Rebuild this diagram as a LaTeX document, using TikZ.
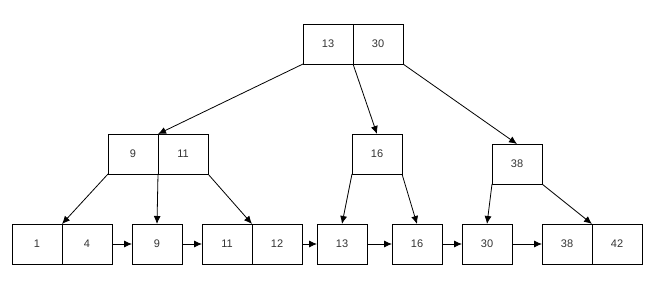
\documentclass[tikz,border=0pt]{standalone}
\usepackage{fontspec}
\setmainfont{Liberation Sans}
\usetikzlibrary{arrows.meta}
\begin{document}
\begin{tikzpicture}[x=1pt,y=-1pt,
  cell/.style={draw, line width=0.9pt, minimum width=50pt, minimum height=40pt, inner sep=0pt, outer sep=0pt, font=\fontsize{11}{13}\selectfont, text=black!80},
  link/.style={line width=0.8pt, -{Latex[length=8pt,width=7pt]}}]
\useasboundingbox (0,0) rectangle (652,281);
% root
\node[cell] (r1) at (328,44) {13};
\node[cell] (r2) at (378,44) {30};
% level 2
\node[cell] (a1) at (133,154) {9};
\node[cell] (a2) at (183,154) {11};
\node[cell] (b)  at (377,154) {16};
\node[cell] (c)  at (517,164) {38};
% leaves
\node[cell] (l1) at (37,244) {1};
\node[cell] (l2) at (87,244) {4};
\node[cell] (l3) at (157,244) {9};
\node[cell] (l4) at (227,244) {11};
\node[cell] (l5) at (277,244) {12};
\node[cell] (l6) at (342,244) {13};
\node[cell] (l7) at (417,244) {16};
\node[cell] (l8) at (487,244) {30};
\node[cell] (l9) at (567,244) {38};
\node[cell] (l10) at (617,244) {42};
% tree edges
\draw[link] (r1.south west) -- (a1.north east);
\draw[link] (r2.south west) -- (b.north);
\draw[link] (r2.south east) -- (c.north);
\draw[link] (a1.south west) -- (l1.north east);
\draw[link] (a1.south east) -- (l3.north);
\draw[link] (a2.south east) -- (l4.north east);
\draw[link] (b.south west) -- (l6.north);
\draw[link] (b.south east) -- (l7.north);
\draw[link] (c.south west) -- (l8.north);
\draw[link] (c.south east) -- (l9.north east);
% leaf links
\draw[link] (l2.east) -- (l3.west);
\draw[link] (l3.east) -- (l4.west);
\draw[link] (l5.east) -- (l6.west);
\draw[link] (l6.east) -- (l7.west);
\draw[link] (l7.east) -- (l8.west);
\draw[link] (l8.east) -- (l9.west);
\end{tikzpicture}
\end{document}
